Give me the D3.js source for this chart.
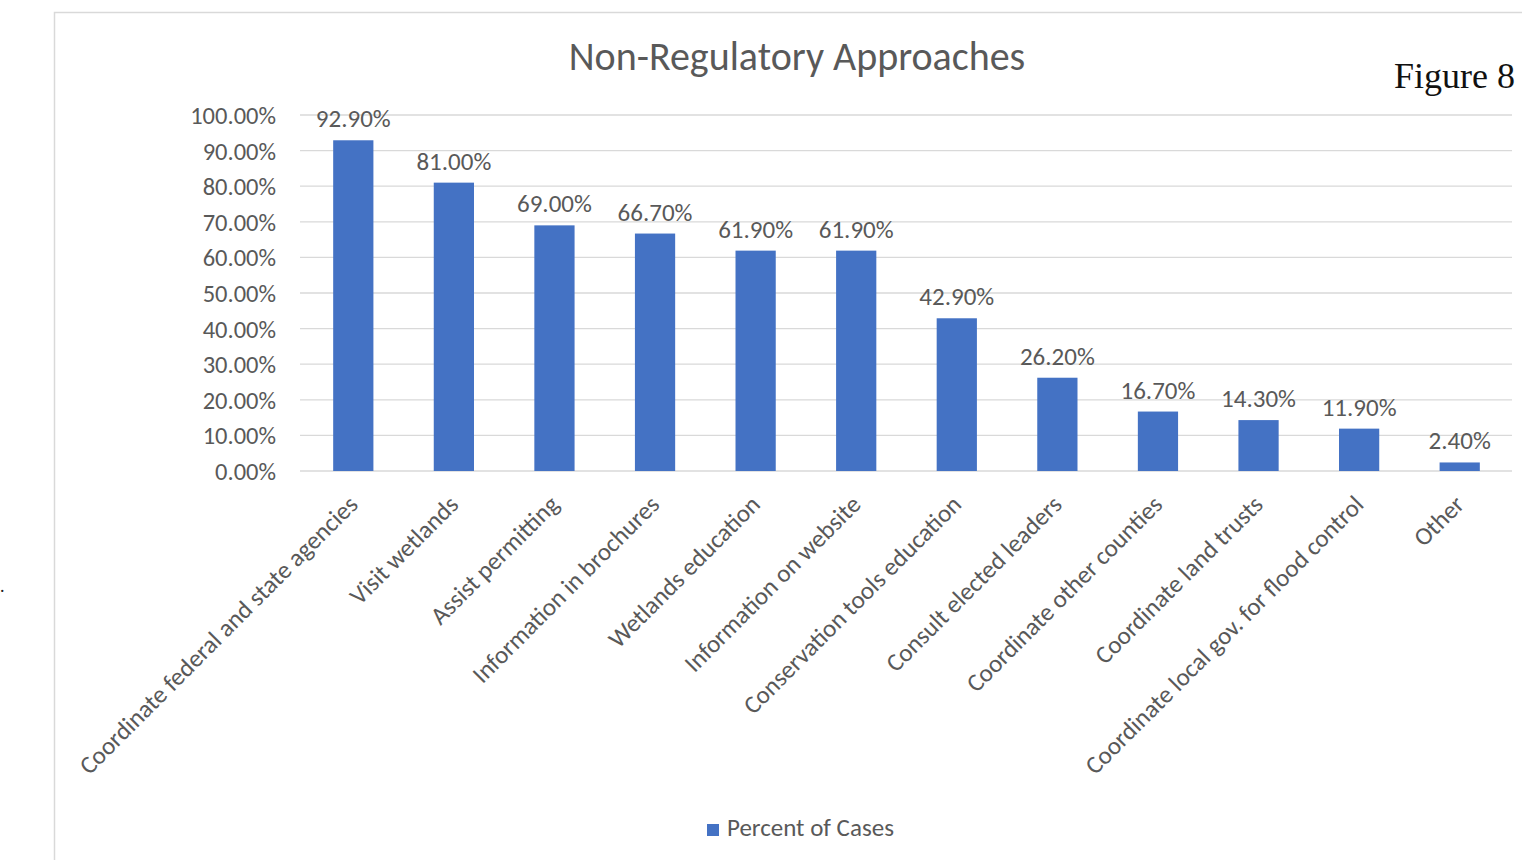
<!DOCTYPE html>
<html>
<head>
<meta charset="utf-8">
<script src="https://cdn.jsdelivr.net/npm/d3@7/dist/d3.min.js"></script>
<style>
  html, body { margin: 0; padding: 0; background: #fff; }
  svg { display: block; }
</style>
</head>
<body>
<svg id="chart" width="1522" height="860"></svg>
<script>
// Survey results: share of cases using each non-regulatory approach
const categories = [
  "Coordinate federal and state agencies",
  "Visit wetlands",
  "Assist permitting",
  "Information in brochures",
  "Wetlands education",
  "Information on website",
  "Conservation tools education",
  "Consult elected leaders",
  "Coordinate other counties",
  "Coordinate land trusts",
  "Coordinate local gov. for flood control",
  "Other"
];
const percentOfCases = [92.9, 81.0, 69.0, 66.7, 61.9, 61.9, 42.9, 26.2, 16.7, 14.3, 11.9, 2.4];
const yTicks = [0, 10, 20, 30, 40, 50, 60, 70, 80, 90, 100];
const seriesName = "Percent of Cases";
const chartTitle = "Non-Regulatory Approaches";
const figureLabel = "Figure 8";

const svg = d3.select("#chart");
const font = "Calibri, Carlito, Lato, 'Open Sans', sans-serif";
const textColor = "#595959";
const barColor = "#4472C4";

// chart frame
svg.append("rect")
  .attr("x", 54.5).attr("y", 12.5)
  .attr("width", 1500).attr("height", 900)
  .attr("fill", "#fff").attr("stroke", "#d9d9d9").attr("stroke-width", 1.5);

svg.append("text")
  .attr("x", 0).attr("y", 592)
  .attr("font-family", "'Liberation Serif', serif").attr("font-size", 18)
  .attr("fill", "#222").text(".");

const x = d3.scaleBand().domain(categories).range([303, 1510]).paddingInner(0.6).paddingOuter(0.3);
const y = d3.scaleLinear().domain([0, 100]).range([471, 115]);

// gridlines
svg.append("g")
  .selectAll("line").data(yTicks).join("line")
  .attr("x1", 300).attr("x2", 1512)
  .attr("y1", d => y(d)).attr("y2", d => y(d))
  .attr("stroke", "#d9d9d9").attr("stroke-width", 1.3);

// y axis labels
const yAxis = d3.axisLeft(y).tickValues(yTicks).tickSize(0).tickPadding(0)
  .tickFormat(d => d.toFixed(2) + "%");
const gy = svg.append("g").attr("transform", "translate(276,0)").call(yAxis);
gy.select(".domain").remove();
gy.selectAll("text")
  .attr("font-family", font).attr("font-size", 24.5).attr("fill", textColor)
  .attr("dy", "0.35em");

// bars
svg.append("g").selectAll("rect").data(percentOfCases).join("rect")
  .attr("x", (d, i) => x(categories[i]))
  .attr("width", x.bandwidth())
  .attr("y", d => y(d))
  .attr("height", d => y(0) - y(d))
  .attr("fill", barColor);

// value labels
svg.append("g").selectAll("text").data(percentOfCases).join("text")
  .attr("x", (d, i) => x(categories[i]) + x.bandwidth() / 2)
  .attr("y", d => y(d) - 13)
  .attr("text-anchor", "middle")
  .attr("font-family", font).attr("font-size", 25).attr("fill", textColor)
  .text(d => d.toFixed(2) + "%");

// category labels, rotated
const xAxis = d3.axisBottom(x).tickSize(0).tickPadding(0);
const gx = svg.append("g").attr("transform", "translate(0,471)").call(xAxis);
gx.select(".domain").remove();
gx.selectAll("text")
  .attr("font-family", font).attr("font-size", 25).attr("fill", textColor)
  .attr("text-anchor", "end")
  .attr("dy", null)
  .attr("transform", "translate(6,35) rotate(-45)");

// title
svg.append("text")
  .attr("x", 797).attr("y", 70)
  .attr("text-anchor", "middle")
  .attr("font-family", font).attr("font-size", 40).attr("fill", textColor)
  .text(chartTitle);

svg.append("text")
  .attr("x", 1515).attr("y", 88)
  .attr("text-anchor", "end")
  .attr("font-family", "'Liberation Serif', 'Times New Roman', serif")
  .attr("font-size", 36).attr("fill", "#111")
  .text(figureLabel);

// legend
const legend = svg.append("g").attr("transform", "translate(707,824)");
legend.append("rect").attr("width", 12).attr("height", 12).attr("fill", barColor);
legend.append("text").attr("x", 20).attr("y", 12)
  .attr("font-family", font).attr("font-size", 25).attr("fill", textColor)
  .text(seriesName);
</script>
</body>
</html>
